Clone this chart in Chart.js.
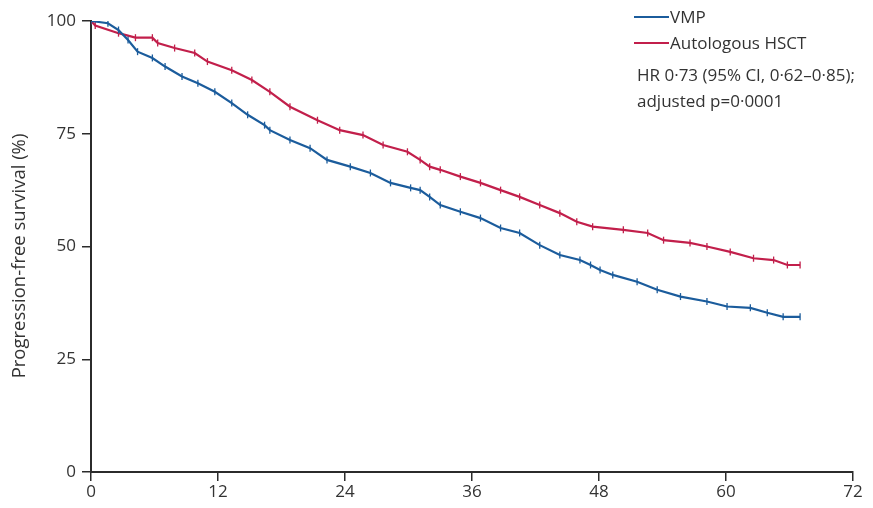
<!DOCTYPE html>
<html>
<head>
<meta charset="utf-8">
<script src="https://cdn.jsdelivr.net/npm/chart.js@4"></script>
<style>
  html, body { margin: 0; padding: 0; background: #fff; }
  #wrap { width: 873px; height: 508px; position: relative; }
</style>
</head>
<body>
<div id="wrap"><canvas id="chart"></canvas></div>
<script>
// Months since randomisation and progression-free survival (%)
const vmpMonths = [0, 1.6, 2.6, 3.5, 4.4, 5.8, 7, 8.6, 10.1, 11.7, 13.3, 14.8, 16.4, 16.9, 18.8, 20.7, 22.3, 24.5, 26.4, 28.3, 30.2, 31.1, 32, 33, 34.9, 36.8, 38.7, 40.5, 42.4, 44.3, 46.2, 47.2, 48.1, 49.3, 51.6, 53.5, 55.7, 58.2, 60.1, 62.3, 63.9, 65.4, 67];
const vmpSurvival = [100, 99.5, 98, 95.8, 93.2, 91.8, 89.9, 87.7, 86.2, 84.3, 81.8, 79.2, 76.9, 75.8, 73.6, 71.8, 69.2, 67.7, 66.3, 64.1, 63, 62.5, 61, 59.2, 57.7, 56.3, 54.1, 53, 50.3, 48.1, 47, 45.9, 44.8, 43.7, 42.2, 40.4, 38.9, 37.8, 36.7, 36.4, 35.3, 34.4, 34.4];

const hsctMonths = [0, 0.4, 2.6, 4.2, 5.8, 6.3, 7.9, 9.8, 11, 13.3, 15.2, 16.9, 18.8, 21.4, 23.5, 25.7, 27.6, 29.9, 31.1, 32, 33, 34.9, 36.8, 38.7, 40.5, 42.4, 44.3, 45.9, 47.4, 50.3, 52.6, 54.1, 56.6, 58.2, 60.4, 62.6, 64.5, 65.8, 67];
const hsctSurvival = [100, 99, 97.3, 96.3, 96.3, 95.1, 94, 92.9, 91, 89.1, 86.9, 84.3, 81, 78, 75.8, 74.7, 72.5, 71, 69.2, 67.7, 67, 65.5, 64.1, 62.5, 61, 59.2, 57.4, 55.5, 54.4, 53.7, 53, 51.4, 50.8, 50, 48.8, 47.4, 47, 45.9, 45.9];

const xTicks = [0, 12, 24, 36, 48, 60, 72];
const yTicks = [0, 25, 50, 75, 100];

const seriesNames = ['VMP', 'Autologous HSCT'];
const seriesColors = ['#1b5c9c', '#c21f4b'];
const noteLines = ['HR 0\u00b773 (95% CI, 0\u00b762\u20130\u00b785);', 'adjusted p=0\u00b70001'];
const yTitle = 'Progression-free survival (%)';

const FONT = "'Open Sans', 'Noto Sans', sans-serif";
const TEXT = '#333333';
const AXIS = '#2b2b2b';

function toPoints(xs, ys) {
  return xs.map((x, i) => ({ x: x, y: ys[i] }));
}

// Legend, HR note and y axis title
const notePlugin = {
  id: 'notes',
  afterDraw: (chart) => {
    const ctx = chart.ctx;
    ctx.save();
    ctx.font = '17px ' + FONT;
    ctx.fillStyle = TEXT;
    ctx.textBaseline = 'middle';
    const lx = 634;
    seriesNames.forEach((name, i) => {
      const y = 17 + i * 26;
      ctx.beginPath();
      ctx.moveTo(lx, y);
      ctx.lineTo(lx + 35, y);
      ctx.strokeStyle = seriesColors[i];
      ctx.lineWidth = 2;
      ctx.stroke();
      ctx.fillText(name, lx + 36, y + 1);
    });
    noteLines.forEach((line, i) => {
      ctx.fillText(line, 637, 76 + i * 26);
    });

    // rotated axis title, a bit below the plot centre as in the original
    ctx.translate(20, 256);
    ctx.rotate(-Math.PI / 2);
    ctx.font = '18.5px ' + FONT;
    ctx.textAlign = 'center';
    ctx.fillText(yTitle, 0, 0);
    ctx.restore();
  }
};

function dataset(i, xs, ys) {
  return {
    label: seriesNames[i],
    data: toPoints(xs, ys),
    borderColor: seriesColors[i],
    backgroundColor: seriesColors[i],
    borderWidth: 2.2,
    tension: 0,
    pointStyle: 'line',
    rotation: 90,
    pointRadius: 3.5,
    pointBorderWidth: 1.3,
    pointBorderColor: seriesColors[i]
  };
}

const ctx = document.getElementById('chart').getContext('2d');
new Chart(ctx, {
  type: 'line',
  data: {
    datasets: [
      dataset(0, vmpMonths, vmpSurvival),
      dataset(1, hsctMonths, hsctSurvival)
    ]
  },
  options: {
    responsive: true,
    maintainAspectRatio: false,
    animation: false,
    layout: { padding: { top: 21, right: 20, left: 0, bottom: 0 } },
    plugins: {
      legend: { display: false },
      tooltip: { enabled: false }
    },
    scales: {
      x: {
        type: 'linear',
        min: 0,
        max: 72,
        afterBuildTicks: (scale) => { scale.ticks = xTicks.map(v => ({ value: v })); },
        afterFit: (scale) => { scale.height = 36; },
        border: { color: AXIS, width: 2 },
        grid: { drawOnChartArea: false, drawTicks: true, tickLength: 9, color: AXIS, lineWidth: 1.5 },
        ticks: { color: TEXT, font: { family: FONT, size: 17 }, padding: 1, maxRotation: 0 }
      },
      y: {
        min: 0,
        max: 100,
        afterBuildTicks: (scale) => { scale.ticks = yTicks.map(v => ({ value: v })); },
        afterFit: (scale) => { scale.width = 91; },
        border: { color: AXIS, width: 2 },
        grid: { drawOnChartArea: false, drawTicks: true, tickLength: 9, color: AXIS, lineWidth: 1.5 },
        ticks: { color: TEXT, font: { family: FONT, size: 17 }, padding: 6 }
      }
    }
  },
  plugins: [notePlugin]
});
</script>
</body>
</html>
